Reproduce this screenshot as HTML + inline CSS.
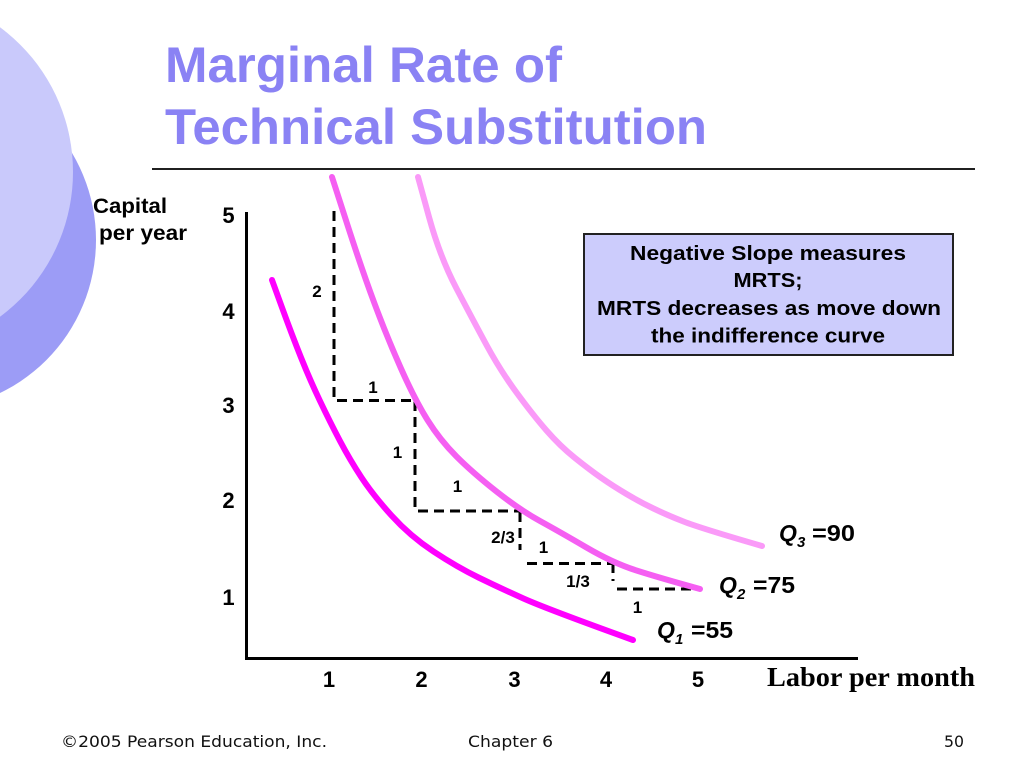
<!DOCTYPE html>
<html>
<head>
<meta charset="utf-8">
<style>
  html,body{margin:0;padding:0;background:#fff;}
  body{width:1024px;height:767px;overflow:hidden;}
  svg{display:block;}
</style>
</head>
<body>
<svg width="1024" height="767" viewBox="0 0 1024 767" xmlns="http://www.w3.org/2000/svg">
  <rect x="0" y="0" width="1024" height="767" fill="#ffffff"/>

  <!-- decorative circles -->
  <circle cx="-74" cy="240" r="170" fill="#9c9cf6"/>
  <circle cx="-107" cy="172" r="180" fill="#c9c9fb"/>

  <!-- title -->
  <g font-family="Liberation Sans, Arial, sans-serif" font-weight="bold" font-size="50" fill="#8a82f4">
    <text x="165" y="82" textLength="397" lengthAdjust="spacingAndGlyphs">Marginal Rate of</text>
    <text x="165" y="144" textLength="542" lengthAdjust="spacingAndGlyphs">Technical Substitution</text>
  </g>
  <line x1="152" y1="169" x2="975" y2="169" stroke="#000" stroke-width="1.8"/>

  <!-- y axis label -->
  <g font-family="Liberation Sans, Arial, sans-serif" font-weight="bold" font-size="21" fill="#000">
    <text x="93" y="213" textLength="74" lengthAdjust="spacingAndGlyphs">Capital</text>
    <text x="99" y="240" textLength="88" lengthAdjust="spacingAndGlyphs">per year</text>
  </g>

  <!-- axes -->
  <line x1="246.5" y1="212" x2="246.5" y2="660" stroke="#000" stroke-width="3"/>
  <line x1="245" y1="658.5" x2="858" y2="658.5" stroke="#000" stroke-width="3"/>

  <!-- tick labels -->
  <g font-family="Liberation Sans, Arial, sans-serif" font-weight="bold" font-size="22" fill="#000" text-anchor="middle">
    <text x="228.5" y="223">5</text>
    <text x="228.5" y="319">4</text>
    <text x="228.5" y="413">3</text>
    <text x="228.5" y="508">2</text>
    <text x="228.5" y="605">1</text>
    <text x="329" y="687">1</text>
    <text x="421.5" y="687">2</text>
    <text x="514.5" y="687">3</text>
    <text x="606" y="687">4</text>
    <text x="698" y="687">5</text>
  </g>

  <text x="767" y="686" font-family="Liberation Serif, Times New Roman, serif" font-weight="bold" font-size="27" fill="#000" textLength="208" lengthAdjust="spacingAndGlyphs">Labor per month</text>

  <!-- dashed step lines -->
  <g stroke="#000" stroke-width="3" stroke-dasharray="10 6" fill="none">
    <line x1="334" y1="211" x2="334" y2="398"/>
    <line x1="337" y1="400.5" x2="415" y2="400.5"/>
    <line x1="415" y1="401" x2="415" y2="508"/>
    <line x1="418" y1="511" x2="520" y2="511"/>
    <line x1="520" y1="512" x2="520" y2="550"/>
    <line x1="527" y1="563.5" x2="613" y2="563.5"/>
    <line x1="613" y1="563" x2="613" y2="581"/>
    <line x1="617" y1="589" x2="700" y2="589"/>
  </g>

  <!-- curves -->
  <g fill="none" stroke-width="6" stroke-linecap="round" stroke-linejoin="round">
    <path stroke="#fa9af8" d="M418,177 L429,217 Q440,257 456.5,288.5 Q473,320 486.5,345 Q500,370 516.5,392.5 Q533,415 546.5,430.5 Q560,446 575,458 Q590,470 601.5,478 Q613,486 626.5,494 Q640,502 653.5,508.5 Q667,515 683.5,521.5 Q700,528 762,546"/>
    <path stroke="#f55ff2" d="M332,177 L347,223.5 Q362,270 374.5,303.5 Q387,337 401,368.5 Q415,400 427.5,420 Q440,440 456.5,456.5 Q473,473 496.5,491.5 Q520,510 540,521 Q560,532 586.5,547.5 Q613,563 636.5,570.5 Q660,578 700,589"/>
    <path stroke="#ff00ff" d="M272,280 L282,307.5 Q292,335 301,357.5 Q310,380 320,401 Q330,422 340,441 Q350,460 361.5,477.5 Q373,495 391.5,515.5 Q410,536 433.5,551.5 Q457,567 478.5,577.5 Q500,588 523.5,598.5 Q547,609 633,640"/>
  </g>

  <!-- step labels -->
  <g font-family="Liberation Sans, Arial, sans-serif" font-weight="bold" font-size="17" fill="#000" text-anchor="middle">
    <text x="317" y="297">2</text>
    <text x="373" y="393">1</text>
    <text x="397.5" y="458">1</text>
    <text x="457.5" y="492">1</text>
    <text x="503" y="543">2/3</text>
    <text x="543.5" y="553">1</text>
    <text x="578" y="587">1/3</text>
    <text x="637.5" y="613">1</text>
  </g>

  <!-- Q labels -->
  <g font-family="Liberation Sans, Arial, sans-serif" font-weight="bold" fill="#000">
    <text x="779" y="541" font-size="23" font-style="italic">Q</text>
    <text x="797" y="547" font-size="15" font-style="italic">3</text>
    <text x="812" y="541" font-size="23" textLength="43" lengthAdjust="spacingAndGlyphs">=90</text>

    <text x="719" y="593" font-size="23" font-style="italic">Q</text>
    <text x="737" y="599" font-size="15" font-style="italic">2</text>
    <text x="753" y="593" font-size="23" textLength="42" lengthAdjust="spacingAndGlyphs">=75</text>

    <text x="657" y="638" font-size="23" font-style="italic">Q</text>
    <text x="675" y="644" font-size="15" font-style="italic">1</text>
    <text x="691" y="638" font-size="23" textLength="42" lengthAdjust="spacingAndGlyphs">=55</text>
  </g>

  <!-- note box -->
  <rect x="584" y="234" width="369" height="121" fill="#ccccfc" stroke="#222" stroke-width="2"/>
  <g font-family="Liberation Sans, Arial, sans-serif" font-weight="bold" font-size="20" fill="#000" text-anchor="middle">
    <text x="768" y="260" textLength="276" lengthAdjust="spacingAndGlyphs">Negative Slope measures</text>
    <text x="768" y="287" textLength="69" lengthAdjust="spacingAndGlyphs">MRTS;</text>
    <text x="769" y="315" textLength="344" lengthAdjust="spacingAndGlyphs">MRTS decreases as move down</text>
    <text x="768" y="342.5" textLength="234" lengthAdjust="spacingAndGlyphs">the indifference curve</text>
  </g>

  <!-- footer -->
  <g font-family="DejaVu Sans, Verdana, sans-serif" font-size="16" fill="#111">
    <text x="61" y="747" textLength="266" lengthAdjust="spacingAndGlyphs">©2005 Pearson Education, Inc.</text>
    <text x="468" y="747" textLength="85" lengthAdjust="spacingAndGlyphs">Chapter 6</text>
    <text x="944" y="747" textLength="20" lengthAdjust="spacingAndGlyphs">50</text>
  </g>
</svg>
</body>
</html>
